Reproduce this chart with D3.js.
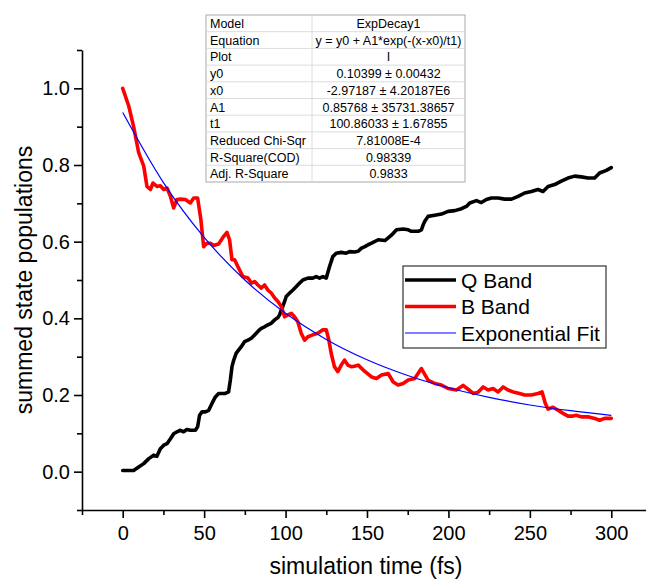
<!DOCTYPE html>
<html>
<head>
<meta charset="utf-8">
<script src="https://cdn.jsdelivr.net/npm/d3@7"></script>
<style>
  html, body { margin: 0; padding: 0; background: #fff; }
  svg { display: block; font-family: Arial, "Liberation Sans", sans-serif; }
</style>
</head>
<body>
<svg id="chart" width="646" height="581"></svg>
<script>
// Q band (black)
const qTime = [0, 6.7, 9.8, 12.9, 16, 19, 21, 23.1, 25.2, 27.2, 29.3, 31.3, 33.3, 35.4, 37.4, 39.4, 41.5, 44.6, 46, 47.2,
  48.7, 50.7, 52.8, 54.8, 56.9, 58.9, 60.9, 63, 65, 66.1, 67.1, 68.1, 69.7, 72.8, 74.8, 76.9, 79, 82, 84, 85.1,
  87.1, 89.1, 91.2, 93.3, 95.3, 96.3, 97.4, 98.3, 99.4, 100.4, 102.5, 104.5, 106.6, 108.6, 110.6, 113.7, 116.7, 118.8, 120.9, 122.9,
  125, 127, 129, 131.1, 134.2, 137.2, 139.3, 142.3, 144.6, 146.6, 148.7, 150.7, 152.8, 156.9, 161, 165, 168.1, 172.2, 175.3, 177.3,
  181.4, 183.4, 184.5, 185.5, 187.5, 191.6, 195.7, 199.8, 203.9, 208, 211, 213.1, 217.2, 220.2, 223.3, 226.4, 230.5, 234.5, 238.7, 242.8,
  246.8, 250.9, 255, 258.1, 261.2, 265.2, 269.3, 273.4, 277.5, 281.6, 285.7, 289.8, 292.8, 297, 300];
const qPop = [0.003, 0.003, 0.012, 0.021, 0.034, 0.043, 0.04, 0.06, 0.069, 0.073, 0.086, 0.099, 0.104, 0.108, 0.104, 0.11, 0.108, 0.108, 0.117, 0.147,
  0.156, 0.156, 0.16, 0.178, 0.195, 0.204, 0.204, 0.204, 0.208, 0.239, 0.274, 0.29, 0.309, 0.326, 0.339, 0.343, 0.348, 0.361, 0.37, 0.374,
  0.378, 0.383, 0.387, 0.396, 0.402, 0.409, 0.422, 0.431, 0.444, 0.457, 0.466, 0.474, 0.483, 0.492, 0.5, 0.505, 0.505, 0.509, 0.505, 0.509,
  0.505, 0.535, 0.561, 0.57, 0.572, 0.57, 0.574, 0.573, 0.575, 0.583, 0.587, 0.592, 0.596, 0.605, 0.603, 0.617, 0.631, 0.633, 0.631, 0.627,
  0.627, 0.631, 0.644, 0.653, 0.666, 0.669, 0.672, 0.679, 0.681, 0.686, 0.692, 0.701, 0.707, 0.702, 0.71, 0.714, 0.714, 0.711, 0.711, 0.718,
  0.727, 0.731, 0.736, 0.731, 0.744, 0.749, 0.758, 0.766, 0.771, 0.769, 0.766, 0.766, 0.779, 0.786, 0.793];

// B band (red)
const bTime = [0, 3.7, 6.7, 9.8, 12.9, 14.9, 17, 18.6, 21, 23.1, 25.2, 27.2, 29.3, 31.3, 33.3, 35.4, 38.5, 41.5, 43.6, 46,
  48, 49.7, 51.7, 53.8, 55.8, 58.9, 62, 64, 65.6, 67.1, 68.7, 70.7, 73.8, 76.9, 79, 81, 83, 85.1, 87.1, 89.1,
  91.2, 93.3, 95.3, 97.4, 99.4, 101.4, 103.5, 105.5, 107.5, 109.6, 111.7, 113.7, 116.7, 119.8, 122.9, 125, 126.6, 128, 130, 132.1,
  134.2, 136.2, 138.2, 140.3, 142.3, 144.6, 147.7, 152.8, 155.8, 158.9, 163, 166.1, 169.1, 172.2, 175.3, 179.3, 183.4, 187.5, 191.6, 195.7,
  199.8, 204.9, 209, 212.1, 215.2, 218.2, 221.3, 224.4, 227.4, 230.5, 233.6, 236.6, 239.7, 243.7, 246.8, 250.9, 255, 257.5, 259.5, 261.2,
  264.2, 267.3, 270.4, 273.4, 276.5, 278.5, 281.6, 285.7, 289.8, 292.8, 295.9, 300];
const bPop = [1.0, 0.954, 0.9, 0.832, 0.797, 0.744, 0.736, 0.753, 0.744, 0.746, 0.736, 0.74, 0.718, 0.688, 0.71, 0.711, 0.71, 0.701, 0.714, 0.714,
  0.657, 0.587, 0.596, 0.596, 0.59, 0.594, 0.614, 0.624, 0.605, 0.553, 0.553, 0.535, 0.509, 0.505, 0.492, 0.496, 0.487, 0.479, 0.487, 0.474,
  0.466, 0.453, 0.444, 0.431, 0.404, 0.409, 0.413, 0.404, 0.391, 0.361, 0.343, 0.352, 0.357, 0.361, 0.37, 0.37, 0.343, 0.309, 0.274, 0.261,
  0.278, 0.291, 0.278, 0.274, 0.275, 0.278, 0.265, 0.247, 0.243, 0.252, 0.256, 0.234, 0.226, 0.23, 0.239, 0.243, 0.269, 0.239, 0.23, 0.226,
  0.217, 0.213, 0.225, 0.215, 0.204, 0.207, 0.221, 0.213, 0.217, 0.208, 0.221, 0.213, 0.208, 0.204, 0.2, 0.2, 0.204, 0.208, 0.178, 0.163,
  0.168, 0.16, 0.152, 0.145, 0.145, 0.147, 0.143, 0.143, 0.139, 0.134, 0.139, 0.139];

// Exponential fit (blue), sampled every 25 fs
const fitTime = [0, 25, 50, 75, 100, 125, 150, 175, 200, 225, 250, 275, 300];
const fitPop = [0.937, 0.754, 0.611, 0.5, 0.413, 0.345, 0.292, 0.251, 0.219, 0.194, 0.174, 0.159, 0.147];

const xMajor = [0, 50, 100, 150, 200, 250, 300];
const xMinor = [-25, 25, 75, 125, 175, 225, 275, 325];
const yMajor = [0, 0.2, 0.4, 0.6, 0.8, 1.0];
const yMinor = [-0.1, 0.1, 0.3, 0.5, 0.7, 0.9, 1.1];

const legendLabels = ['Q Band', 'B Band', 'Exponential Fit'];
const tableKeys = ['Model', 'Equation', 'Plot', 'y0', 'x0', 'A1', 't1', 'Reduced Chi-Sqr', 'R-Square(COD)', 'Adj. R-Square'];
const tableVals = ['ExpDecay1', 'y = y0 + A1*exp(-(x-x0)/t1)', 'I', '0.10399 \u00b1 0.00432', '-2.97187 \u00b1 4.20187E6',
  '0.85768 \u00b1 35731.38657', '100.86033 \u00b1 1.67855', '7.81008E-4', '0.98339', '0.9833'];

const svg = d3.select('#chart');
const margin = { left: 82, top: 50, bottom: 510 };

// Scales
const x = d3.scaleLinear().domain([-25, 325]).range([margin.left, 652]);
const y = d3.scaleLinear().domain([-0.1, 1.1]).range([margin.bottom, margin.top]);

// Axes
const xAxis = svg.append('g').attr('transform', `translate(0,${margin.bottom})`);
xAxis.call(d3.axisBottom(x).tickValues(xMajor).tickSize(8).tickSizeOuter(0).tickPadding(8).tickFormat(d3.format('d')));
xAxis.append('g').call(d3.axisBottom(x).tickValues(xMinor).tickSize(5).tickFormat(''))
  .select('.domain').remove();

const yAxis = svg.append('g').attr('transform', `translate(${margin.left},0)`);
yAxis.call(d3.axisLeft(y).tickValues(yMajor).tickSize(8).tickSizeOuter(0).tickPadding(4).tickFormat(d3.format('.1f')));
yAxis.append('g').call(d3.axisLeft(y).tickValues(yMinor).tickSize(5).tickFormat(''))
  .select('.domain').remove();

svg.selectAll('.domain').attr('stroke', '#000').attr('stroke-width', 1.6);
svg.selectAll('.tick line').attr('stroke', '#000').attr('stroke-width', 1.6);
svg.selectAll('.tick text').attr('font-size', 20).attr('fill', '#000')
  .attr('font-family', 'Arial, "Liberation Sans", sans-serif');

// Axis titles
svg.append('text')
  .attr('x', (margin.left + 650) / 2).attr('y', 574)
  .attr('text-anchor', 'middle').attr('font-size', 23)
  .text('simulation time (fs)');

svg.append('text')
  .attr('transform', `translate(32,${(margin.top + margin.bottom) / 2}) rotate(-90)`)
  .attr('text-anchor', 'middle').attr('font-size', 23)
  .text('summed state populations');

// Lines
const line = d3.line().x(d => x(d[0])).y(d => y(d[1]));
const fitLine = d3.line().x(d => x(d[0])).y(d => y(d[1])).curve(d3.curveMonotoneX);

svg.append('path')
  .datum(qTime.map((t, i) => [t, qPop[i]]))
  .attr('fill', 'none').attr('stroke', '#000').attr('stroke-width', 3.6)
  .attr('stroke-linejoin', 'round').attr('stroke-linecap', 'round')
  .attr('d', line);

svg.append('path')
  .datum(bTime.map((t, i) => [t, bPop[i]]))
  .attr('fill', 'none').attr('stroke', '#ff0000').attr('stroke-width', 3.6)
  .attr('stroke-linejoin', 'round').attr('stroke-linecap', 'round')
  .attr('d', line);

svg.append('path')
  .datum(fitTime.map((t, i) => [t, fitPop[i]]))
  .attr('fill', 'none').attr('stroke', '#0000ff').attr('stroke-width', 1.2)
  .attr('d', fitLine);

// Fit results table
const tbl = { left: 206, right: 465, split: 312, top: 15, rowH: 16.7 };
const tg = svg.append('g').attr('font-size', 12.5);
tg.append('rect')
  .attr('x', tbl.left).attr('y', tbl.top)
  .attr('width', tbl.right - tbl.left).attr('height', tbl.rowH * tableKeys.length)
  .attr('fill', '#fff').attr('stroke', '#a9a9a9').attr('stroke-width', 1);
tg.selectAll('.row-line')
  .data(d3.range(1, tableKeys.length))
  .enter().append('line')
  .attr('x1', tbl.left + 0.5).attr('x2', tbl.right - 0.5)
  .attr('y1', i => tbl.top + i * tbl.rowH).attr('y2', i => tbl.top + i * tbl.rowH)
  .attr('stroke', '#dcdcdc');
tg.append('line')
  .attr('x1', tbl.split).attr('x2', tbl.split)
  .attr('y1', tbl.top).attr('y2', tbl.top + tbl.rowH * tableKeys.length)
  .attr('stroke', '#dcdcdc');
tg.selectAll('.key')
  .data(tableKeys)
  .enter().append('text')
  .attr('x', tbl.left + 4)
  .attr('y', (d, i) => tbl.top + i * tbl.rowH + 13)
  .text(d => d);
tg.selectAll('.val')
  .data(tableVals)
  .enter().append('text')
  .attr('x', (tbl.split + tbl.right) / 2)
  .attr('y', (d, i) => tbl.top + i * tbl.rowH + 13)
  .attr('text-anchor', 'middle')
  .text(d => d);

// Legend
const lg = svg.append('g');
lg.append('rect')
  .attr('x', 403).attr('y', 266).attr('width', 203).attr('height', 82)
  .attr('fill', '#fff').attr('stroke', '#333').attr('stroke-width', 1.2);
const legendStyle = [
  { color: '#000', width: 3.6 },
  { color: '#ff0000', width: 3.6 },
  { color: '#0000ff', width: 1.2 }
];
legendLabels.forEach((label, i) => {
  const cy = 280 + i * 26.5;
  lg.append('line')
    .attr('x1', 405).attr('x2', 456).attr('y1', cy).attr('y2', cy)
    .attr('stroke', legendStyle[i].color).attr('stroke-width', legendStyle[i].width);
  lg.append('text')
    .attr('x', 461).attr('y', cy + 7.5)
    .attr('font-size', 21)
    .text(label);
});
</script>
</body>
</html>
